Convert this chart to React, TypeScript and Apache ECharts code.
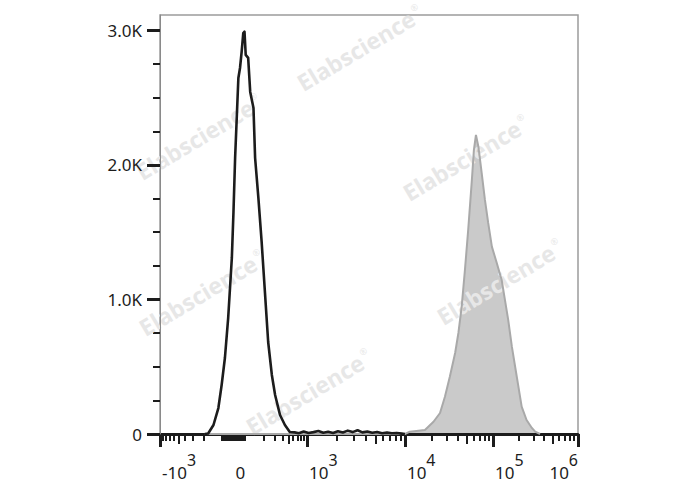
import React, { useEffect, useRef } from "react";
import * as echarts from "echarts";

// ---- histogram data (x in display channels 0..1024, y = event count) ----
const blackChannels = [110, 118, 131, 143, 151, 159, 167, 176, 180, 184, 188, 192, 196, 200, 204, 207, 210, 216, 221, 229, 233, 241, 249, 257, 265, 274, 282, 294, 306, 318, 330, 340, 352, 364, 376, 388, 400, 412, 424, 436, 448, 460, 472, 484, 496, 508, 520, 532, 544, 556, 568, 580, 592, 600];
const blackCounts = [0, 4, 67, 193, 364, 565, 862, 1309, 1650, 2052, 2349, 2647, 2721, 2840, 2981, 2991, 2818, 2796, 2543, 2424, 2052, 1755, 1428, 1056, 684, 439, 290, 141, 67, 15, 12, 6, 18, 8, 14, 22, 9, 16, 7, 20, 11, 25, 14, 28, 12, 18, 9, 15, 6, 10, 5, 8, 3, 0];

const grayChannels = [110, 600, 612, 649, 670, 686, 698, 710, 723, 731, 739, 747, 755, 764, 769, 774, 780, 788, 796, 804, 813, 825, 837, 845, 853, 862, 870, 878, 886, 898, 911, 919, 931];
const grayCounts = [0, 0, 17, 30, 91, 156, 277, 426, 602, 751, 946, 1219, 1517, 1888, 2112, 2223, 2136, 1941, 1740, 1569, 1393, 1271, 1145, 997, 848, 649, 500, 352, 203, 104, 45, 17, 0];

// ---- y axis ----
const yMajorTicks = [0, 1000, 2000, 3000];
const yLabels = ["0", "1.0K", "2.0K", "3.0K"];
const yMinorTicks = [250, 500, 750, 1250, 1500, 1750, 2250, 2500, 2750];
const yMax = 3115;

// ---- x axis (biexponential display scale) ----
const scaleValues = [-1000, -100, 100, 1000, 1e4, 1e5, 1e6];
const scaleChannels = [0, 152, 208, 360, 600, 816, 1024];

const xLabelValues = [-1000, 0, 1000, 1e4, 1e5, 1e6];
const xLabelBases = ["-10", "0", "10", "10", "10", "10"];
const xLabelExps = ["3", "", "3", "4", "5", "6"];
const xMajorTicks = [-1000, 1000, 1e4, 1e5, 1e6];
const xMediumTicks = [-500, 500, 5e3, 5e4, 5e5];
const xNearZeroTicks = [-100, -90, -80, -70, -60, -50, -40, -30, -20, -10, 0, 10, 20, 30, 40, 50, 60, 70, 80, 90, 100];
const xDecadeMultipliers = [2, 3, 4, 6, 7, 8, 9];
const xDecadeStarts = [100, 1000, 1e4, 1e5];

const watermarkText = "Elabscience";

function toChannel(v: number): number {
  for (let i = 0; i < scaleValues.length - 1; i++) {
    const a = scaleValues[i];
    const b = scaleValues[i + 1];
    if (v >= a && v <= b) {
      let t: number;
      if (a < 0 && b > 0) t = (v - a) / (b - a);
      else if (a > 0) t = Math.log(v / a) / Math.log(b / a);
      else t = Math.log(a / v) / Math.log(a / b);
      return scaleChannels[i] + t * (scaleChannels[i + 1] - scaleChannels[i]);
    }
  }
  return v < scaleValues[0] ? scaleChannels[0] : scaleChannels[scaleChannels.length - 1];
}

const minorRaw: number[] = [...xNearZeroTicks];
xDecadeStarts.forEach((d) => {
  xDecadeMultipliers.forEach((k) => {
    minorRaw.push(k * d);
    if (d === 100) minorRaw.push(-k * d);
  });
});

const labelChannels = xLabelValues.map(toChannel);
const majorChannels = xMajorTicks.map(toChannel);
const mediumChannels = xMediumTicks.map(toChannel);
const minorChannels = minorRaw.map(toChannel);

const FONT = "'Noto Sans', 'Open Sans', sans-serif";
const INK = "#1c1c1c";
const WM = "#e7e7e7";

const GRID = { left: 160, top: 15, width: 418, height: 419 };

const watermarkPositions = [
  [360, 48],
  [466, 158],
  [199, 137],
  [500, 282],
  [202, 293],
  [309, 392],
];

export default function App() {
  const ref = useRef<HTMLDivElement>(null);
  useEffect(() => {
    if (!ref.current) return;
    const chart = echarts.init(ref.current, null, { renderer: "svg" });
    const hiddenAxisCommon = {
      axisLine: { show: false },
      axisLabel: { show: false },
      splitLine: { show: false },
    };
    chart.setOption({
      animation: false,
      backgroundColor: "#ffffff",
      grid: [
        { ...GRID, show: true, borderColor: "#9c9c9c", borderWidth: 1.5, backgroundColor: "transparent" },
        { ...GRID },
        { ...GRID },
      ],
      xAxis: [
        {
          type: "value",
          gridIndex: 0,
          min: 0,
          max: 1024,
          position: "bottom",
          z: 1,
          axisLine: { show: true, onZero: false, lineStyle: { color: INK, width: 3 } },
          axisTick: { show: true, customValues: majorChannels, length: 13, lineStyle: { color: INK, width: 3 } },
          splitLine: { show: false },
          axisLabel: {
            show: true,
            customValues: labelChannels,
            margin: 22,
            align: "left",
            alignMaxLabel: "right",
            formatter: (val: number) => {
              const i = labelChannels.findIndex((c) => Math.abs(c - val) < 0.01);
              if (i < 0) return "";
              return "{b|" + xLabelBases[i] + "}" + (xLabelExps[i] ? "{s|" + xLabelExps[i] + "}" : "");
            },
            rich: {
              b: { fontSize: 17, fontFamily: FONT, color: INK, lineHeight: 20, padding: [12, 0, 0, 2] },
              s: { fontSize: 16, fontFamily: FONT, color: INK, lineHeight: 20, padding: [0, 0, 12, 0] },
            },
          },
        },
        {
          type: "value",
          gridIndex: 1,
          min: 0,
          max: 1024,
          position: "bottom",
          ...hiddenAxisCommon,
          axisTick: { show: true, customValues: minorChannels, length: 7, lineStyle: { color: INK, width: 2 } },
        },
        {
          type: "value",
          gridIndex: 2,
          min: 0,
          max: 1024,
          position: "bottom",
          ...hiddenAxisCommon,
          axisTick: { show: true, customValues: mediumChannels, length: 10, lineStyle: { color: INK, width: 2 } },
        },
      ],
      yAxis: [
        {
          type: "value",
          gridIndex: 0,
          min: 0,
          max: yMax,
          z: 10,
          axisLine: { show: true, onZero: false, lineStyle: { color: "#8a8a8a", width: 1 } },
          axisTick: { show: true, customValues: yMajorTicks, length: 13, lineStyle: { color: INK, width: 3 } },
          splitLine: { show: false },
          axisLabel: {
            show: true,
            customValues: yMajorTicks,
            margin: 18,
            fontSize: 17,
            fontFamily: FONT,
            color: INK,
            formatter: (val: number) => {
              const i = yMajorTicks.indexOf(val);
              return i >= 0 ? yLabels[i] : "";
            },
          },
        },
        {
          type: "value",
          gridIndex: 1,
          min: 0,
          max: yMax,
          ...hiddenAxisCommon,
          axisTick: { show: true, customValues: yMinorTicks, length: 7, lineStyle: { color: INK, width: 2 } },
        },
        {
          type: "value",
          gridIndex: 2,
          min: 0,
          max: yMax,
          ...hiddenAxisCommon,
          axisTick: { show: false },
        },
      ],
      series: [
        {
          type: "line",
          name: "stained-fill",
          xAxisIndex: 0,
          yAxisIndex: 0,
          z: 1,
          data: grayChannels.map((c, i) => [c, grayCounts[i]]),
          showSymbol: false,
          symbol: "none",
          lineStyle: { width: 0, color: "#cacaca" },
          areaStyle: { color: "#cacaca", opacity: 1 },
        },
        {
          type: "line",
          name: "stained-line",
          xAxisIndex: 0,
          yAxisIndex: 0,
          z: 3,
          data: grayChannels.map((c, i) => [c, grayCounts[i]]),
          showSymbol: false,
          symbol: "none",
          lineStyle: { width: 2, color: "#a9a9a9" },
        },
        {
          type: "line",
          name: "unstained",
          xAxisIndex: 0,
          yAxisIndex: 0,
          z: 4,
          data: blackChannels.map((c, i) => [c, blackCounts[i]]),
          showSymbol: false,
          symbol: "none",
          lineStyle: { width: 2.6, color: INK, join: "round" },
        },
      ],
      graphic: watermarkPositions.map(([x, y]) => ({
        type: "text",
        x,
        y,
        z: 2,
        rotation: 0.54,
        silent: true,
        style: {
          text: "{a|" + watermarkText + "}{r|®}",
          align: "center",
          verticalAlign: "middle",
          rich: {
            a: { fontSize: 23, fontWeight: "bold", fontFamily: "'Open Sans', sans-serif", fill: WM, color: WM },
            r: { fontSize: 9, fontFamily: "'Open Sans', sans-serif", fill: WM, color: WM, padding: [0, 0, 14, 2] },
          },
        },
      })),
    });
    return () => chart.dispose();
  }, []);
  return <div ref={ref} style={{ position: "absolute", left: 0, top: 0, width: 688, height: 490 }} />;
}
